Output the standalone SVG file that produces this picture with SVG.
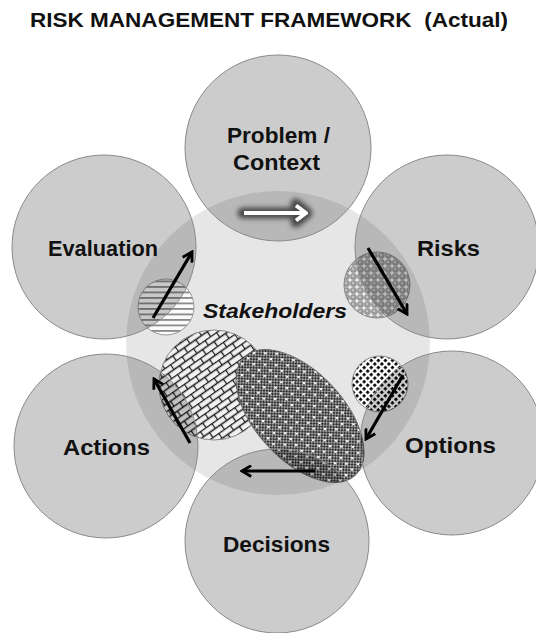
<svg xmlns="http://www.w3.org/2000/svg" width="536" height="633" viewBox="0 0 536 633">
<style>
.title{font-family:"Liberation Sans",Arial,sans-serif;font-weight:bold;font-size:20px;fill:#111;white-space:pre}
.lbl{font-family:"Liberation Sans",Arial,sans-serif;font-weight:bold;font-size:22px;fill:#111;text-anchor:start}
.stake{font-family:"Liberation Sans",Arial,sans-serif;font-weight:bold;font-style:italic;font-size:21px;fill:#111}
.outer{fill:#000;fill-opacity:0.2;stroke:#8a8a8a;stroke-width:1}
.arrow{stroke:#000;stroke-width:3.2;fill:none;marker-end:url(#head)}
</style>
<defs>
<marker id="head" viewBox="0 0 12 12" refX="10" refY="6" markerWidth="13" markerHeight="13" markerUnits="userSpaceOnUse" orient="auto">
<path d="M1.5,1 L10,6 L1.5,11" fill="none" stroke="#000" stroke-width="2.6"/>
</marker>
<pattern id="stripes" width="6" height="5.5" patternUnits="userSpaceOnUse">
<rect width="6" height="5.5" fill="#fbfbfb"/>
<rect y="0" width="6" height="1.8" fill="#8a8a8a"/>
</pattern>
<pattern id="scales" width="7" height="7" patternUnits="userSpaceOnUse">
<rect width="7" height="7" fill="#e8e8e8"/>
<circle cx="3.5" cy="3.5" r="3.1" fill="#9c9c9c" stroke="#7a7a7a" stroke-width="0.5"/>
<circle cx="3" cy="3" r="1.2" fill="#c4c4c4"/>
</pattern>
<pattern id="dots" width="5" height="5" patternUnits="userSpaceOnUse" patternTransform="rotate(45)">
<rect width="5" height="5" fill="#ffffff"/>
<rect x="1" y="1" width="2.8" height="2.8" fill="#000"/>
</pattern>
<pattern id="bricks" width="14" height="12" patternUnits="userSpaceOnUse" patternTransform="rotate(-35)">
<rect width="14" height="12" fill="#f2f2f2"/>
<path d="M0,0.5 H14 M0,6.5 H14 M0.5,0 V6.5 M7.5,6.5 V12" stroke="#1a1a1a" stroke-width="1.3" fill="none"/>
</pattern>
<pattern id="check" width="8" height="8" patternUnits="userSpaceOnUse">
<rect width="8" height="8" fill="#a0a0a0"/>
<path d="M0,0h2v2h-2z M4,0h2v2h-2z M2,2h2v2h-2z M6,2h2v2h-2z M0,4h2v2h-2z M4,4h2v2h-2z M2,6h2v2h-2z M6,6h2v2h-2z" fill="#333"/>
<path d="M6,5h1v3h-1z M5,6h3v1h-3z" fill="#ffffff"/>
</pattern>
<filter id="glow" x="-30%" y="-100%" width="160%" height="300%">
<feGaussianBlur stdDeviation="2.5"/>
</filter>
</defs>
<rect width="536" height="633" fill="#ffffff"/>
<text class="title" x="30" y="27" textLength="478" lengthAdjust="spacingAndGlyphs">RISK MANAGEMENT FRAMEWORK  (Actual)</text>

<g id="stakeholders-area">
<circle cx="278" cy="343" r="152" fill="#e6e6e6"/>
</g>

<g id="patterns">
<circle cx="166" cy="307" r="28" fill="url(#stripes)" stroke="#999" stroke-width="1"/>
<circle cx="377" cy="285" r="33" fill="url(#scales)" stroke="#888" stroke-width="1"/>
<circle cx="380" cy="384" r="28" fill="url(#dots)" stroke="#888" stroke-width="1"/>
<circle cx="214" cy="385" r="55" fill="url(#bricks)" stroke="#888" stroke-width="1"/>
<ellipse cx="300" cy="416" rx="81" ry="44" transform="rotate(47 300 416)" fill="url(#check)" stroke="#666" stroke-width="1"/>
</g>

<g id="node-problem">
<circle class="outer" cx="278" cy="148" r="93"/>
<text class="lbl" x="227" y="143" textLength="103" lengthAdjust="spacingAndGlyphs">Problem /</text>
<text class="lbl" x="233" y="170" textLength="87" lengthAdjust="spacingAndGlyphs">Context</text>
</g>
<g id="node-risks">
<circle class="outer" cx="447" cy="247" r="92"/>
<text class="lbl" x="417" y="256" textLength="63" lengthAdjust="spacingAndGlyphs">Risks</text>
</g>
<g id="node-options">
<circle class="outer" cx="452" cy="443" r="92"/>
<text class="lbl" x="405" y="453" textLength="91" lengthAdjust="spacingAndGlyphs">Options</text>
</g>
<g id="node-decisions">
<circle class="outer" cx="277" cy="541" r="92"/>
<text class="lbl" x="223" y="552" textLength="107" lengthAdjust="spacingAndGlyphs">Decisions</text>
</g>
<g id="node-actions">
<circle class="outer" cx="106" cy="446" r="92"/>
<text class="lbl" x="63" y="455" textLength="87" lengthAdjust="spacingAndGlyphs">Actions</text>
</g>
<g id="node-evaluation">
<circle class="outer" cx="104" cy="247" r="92"/>
<text class="lbl" x="48" y="256" textLength="110" lengthAdjust="spacingAndGlyphs">Evaluation</text>
</g>

<g id="node-stakeholders">
<text class="stake" x="203" y="318" textLength="144" lengthAdjust="spacingAndGlyphs">Stakeholders</text>
</g>

<g id="connectors">
<g filter="url(#glow)" stroke="#4a4a4a" fill="none" stroke-linecap="round" stroke-linejoin="round">
<path d="M243,213 H306 M296,204 L307,213 L296,222" stroke-width="11"/>
</g>
<path d="M244,213 H305 M296,205.5 L306,213 L296,220.5" stroke="#ffffff" stroke-width="4" fill="none" stroke-linejoin="round"/>
<line class="arrow" x1="368" y1="248" x2="407" y2="314"/>
<line class="arrow" x1="403" y1="375" x2="366" y2="439"/>
<line class="arrow" x1="315" y1="471" x2="242" y2="471"/>
<line class="arrow" x1="190" y1="443" x2="154" y2="379"/>
<line class="arrow" x1="153" y1="318" x2="192" y2="252"/>
</g>
</svg>
